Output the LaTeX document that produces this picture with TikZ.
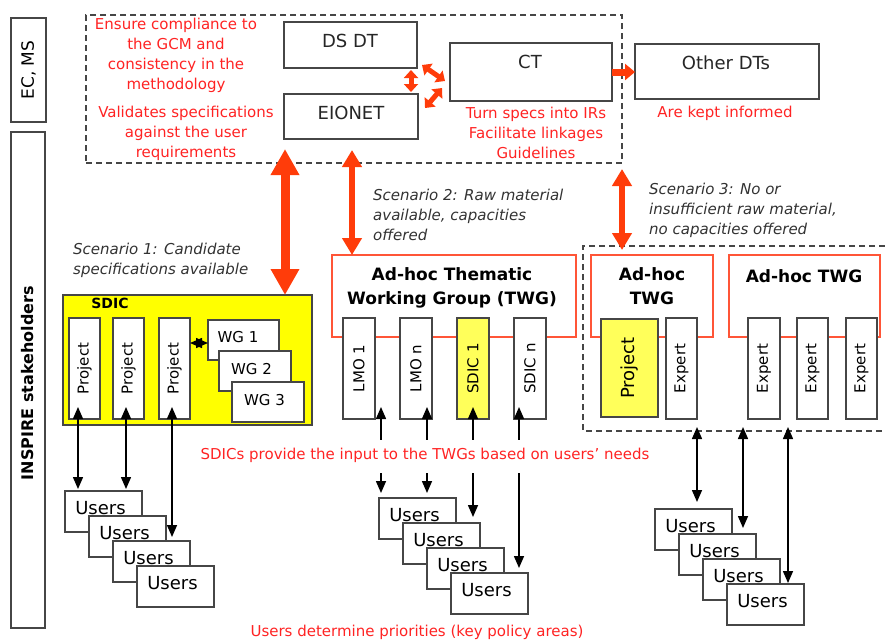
\documentclass[tikz,border=0pt]{standalone}
\usepackage{fontspec}
\setmainfont{DejaVu Sans}
\usetikzlibrary{arrows.meta,calc}
\definecolor{arr}{RGB}{255,60,10}
\definecolor{txr}{RGB}{255,35,35}
\definecolor{twgc}{RGB}{255,85,55}
\definecolor{ylw}{RGB}{255,255,0}
\definecolor{ylt}{RGB}{255,255,90}
\definecolor{bd}{RGB}{70,70,70}
\definecolor{scn}{RGB}{50,50,50}
\newcommand\fs[2]{\fontsize{#1}{#2}\selectfont}
\newcommand\bx[6][]{\node[bxs,#1,minimum width={(#5)-(#3)},minimum height={(#6)-(#4)}] (#2) at ({((#3)+(#5))/2},{((#4)+(#6))/2}) {};}
\newcommand\usr[3]{\bx{#1}{#2}{#3}{#2+77}{#3+41}\node[font=\fs{18}{20},inner sep=0] (#1l) at ([xshift=-3pt,yshift=3pt]#1) {Users};}
\begin{document}
\begin{tikzpicture}[x=1pt,y=-1pt,
  bxs/.style={draw=bd,line width=1.2pt,fill=white,inner sep=0,outer sep=0},
  dsh/.style={draw=bd,line width=1.5pt,dash pattern=on 6pt off 4pt},
  rtx/.style={text=txr,font=\fs{15}{20},align=center,inner sep=0},
  sct/.style={text=scn,font=\fs{15}{20}\itshape,align=left,anchor=west,inner sep=0},
  lbl/.style={font=\fs{18}{22},text=black!85,inner sep=0},
  vl/.style={rotate=90,font=\fs{15}{18},inner sep=0},
  ttl/.style={font=\fs{17}{24}\bfseries,align=center,inner sep=0},
  blka/.style={draw=black,line width=1.5pt},
  >={Triangle[length=12pt,width=10pt]},
  bigA/.style={draw=arr,line width=9pt,{Triangle[length=26pt,width=27pt]}-{Triangle[length=26pt,width=27pt]}},
  midA/.style={draw=arr,line width=6pt,{Triangle[length=17pt,width=19pt]}-{Triangle[length=17pt,width=19pt]}},
  smA/.style={draw=arr,line width=5pt,{Triangle[length=8pt,width=14pt]}-{Triangle[length=8pt,width=14pt]}},
  ctA/.style={draw=arr,line width=7pt,-{Triangle[length=10pt,width=16pt]}}]
\useasboundingbox (0,0) rectangle (885,641);

% left column
\bx{ecms}{11}{18}{46}{122}
\node[vl,font=\fs{17}{20}] (ecmsl) at (ecms) {EC, MS};
\bx{insp}{11}{132}{45}{628}
\node[vl,font=\fs{16}{20}\bfseries] (inspl) at ([yshift=-3pt]insp.center) {INSPIRE stakeholders};

% top dashed box
\bx[dsh,fill=none]{topbox}{86}{15}{622}{163}
\bx{dsdt}{284}{22}{417}{68}
\node[lbl] (dsdtl) at (350,41) {DS DT};
\bx{eionet}{284}{94}{418}{139}
\node[lbl] (eionetl) at (351,113) {EIONET};
\bx{ct}{450}{43}{612}{101}
\node[lbl] (ctl) at (530,62) {CT};
\bx{oth}{635}{44}{819}{99}
\node[lbl] (othl) at (726,63) {Other DTs};

\node[rtx] (t1) at (176,55.5) {Ensure compliance to\\the GCM and\\consistency in the\\methodology};
\node[rtx] (t2) at (186,133.5) {Validates specifications\\against the user\\requirements};
\node[rtx] (t3) at (536,132.5) {Turn specs into IRs\\Facilitate linkages\\Guidelines};
\node[rtx] (t4) at (725,113) {Are kept informed};

% scenarios
\node[sct] (s1) at (73,260) {Scenario 1: Candidate\\specifications available};
\node[sct] (s2) at (373,215) {Scenario 2: Raw material\\available, capacities\\offered};
\node[sct] (s3) at (649,210) {Scenario 3: No or\\insufficient raw material,\\no capacities offered};

% SDIC
\bx[fill=ylw]{sdic}{63}{295}{312}{425}
\node[font=\fs{14}{16}\bfseries,inner sep=0] (sdicl) at (110,303) {SDIC};
\bx{p1}{69}{318}{100}{419}
\bx{p2}{113}{318}{144}{419}
\bx{p3}{159}{318}{190}{419}
\node[vl] (p1l) at (p1) {Project};
\node[vl] (p2l) at (p2) {Project};
\node[vl] (p3l) at (p3) {Project};
\bx{wg1}{208}{320}{279}{360}
\node[font=\fs{15}{18},inner sep=0] (wg1l) at (238,337) {WG 1};
\bx{wg2}{219}{351}{291}{391}
\node[font=\fs{15}{18},inner sep=0] (wg2l) at (251.5,369) {WG 2};
\bx{wg3}{232}{382}{304}{422}
\node[font=\fs{15}{18},inner sep=0] (wg3l) at (264.5,400) {WG 3};
\draw[blka,<->] ([yshift=25.5pt]p3.east) -- ([yshift=25.5pt]p3.east -| wg1.west);

% middle TWG
\bx[draw=twgc]{twg}{332}{255}{576}{337}
\node[ttl] (twgl) at (452,287.5) {Ad-hoc Thematic\\Working Group (TWG)};
\bx{lmo1}{343}{318}{375}{419}
\bx{lmon}{400}{318}{432}{419}
\bx[fill=ylt]{sdic1}{457}{318}{489}{419}
\bx{sdicn}{514}{318}{546}{419}
\node[vl] (lmo1l) at (lmo1) {LMO 1};
\node[vl] (lmonl) at (lmon) {LMO n};
\node[vl] (sdic1l) at (sdic1) {SDIC 1};
\node[vl] (sdicnl) at (sdicn) {SDIC n};

% right dashed area
\draw[dsh] (885,246) -- (583,246) -- (583,431) -- (885,431);
\bx[draw=twgc]{atwg1}{591}{255}{713}{337}
\node[ttl] (atwg1l) at (652,286.5) {Ad-hoc\\TWG};
\bx[draw=twgc]{atwg2}{729}{255}{880}{337}
\node[ttl] (atwg2l) at (804,276) {Ad-hoc TWG};
\bx[fill=ylt]{rproj}{601}{319}{658}{417}
\node[vl,font=\fs{18}{20}] (rprojl) at (rproj) {Project};
\bx{ex1}{666}{318}{697}{419}
\bx{ex2}{748}{318}{780}{419}
\bx{ex3}{797}{318}{828}{419}
\bx{ex4}{846}{318}{877}{419}
\node[vl] (ex1l) at (ex1) {Expert};
\node[vl] (ex2l) at (ex2) {Expert};
\node[vl] (ex3l) at (ex3) {Expert};
\node[vl] (ex4l) at (ex4) {Expert};

% users stacks
\usr{ua}{65}{491}\usr{ub}{89}{516}\usr{uc}{113}{541}\usr{ud}{137}{566}
\usr{va}{379}{498}\usr{vb}{403}{523}\usr{vc}{427}{548}\usr{vd}{451}{573}
\usr{wa}{655}{509}\usr{wb}{679}{534}\usr{wc}{703}{559}\usr{wd}{727}{584}

\node[rtx] (t5) at (425,455) {SDICs provide the input to the TWGs based on users' needs};
\node[rtx] (t6) at (417,632) {Users determine priorities (key policy areas)};

% black arrows left
\draw[blka,<->] ([xshift=-6.5pt,yshift=12pt]p1.south) -- ([xshift=-25.5pt,yshift=2pt]ua.north);
\draw[blka,<->] ([xshift=-2.5pt,yshift=12pt]p2.south) -- ([xshift=22.5pt,yshift=2pt]ua.north);
\draw[blka,<->] ([xshift=-2.5pt,yshift=12pt]p3.south) -- ([xshift=20.5pt,yshift=4pt]uc.north);
% middle
\draw[blka,<-] ([xshift=22pt,yshift=12pt]lmo1.south) -- ++(0,33);
\draw[blka,<-] ([xshift=11pt,yshift=12pt]lmon.south) -- ++(0,33);
\draw[blka,<-] ([yshift=12pt]sdic1.south) -- ++(0,33);
\draw[blka,<-] ([xshift=-11pt,yshift=12pt]sdicn.south) -- ++(0,33);
\draw[blka,<-] ([xshift=-36.5pt,yshift=5pt]va.north) -- ++(0,-20);
\draw[blka,<-] ([xshift=9.5pt,yshift=5pt]va.north) -- ++(0,-20);
\draw[blka,<-] ([xshift=31.5pt,yshift=6pt]vb.north) -- ++(0,-44);
\draw[blka,<-] ([xshift=29.5pt,yshift=5pt]vd.north) -- ++(0,-95);
% right
\draw[blka,<->] ([xshift=15.5pt,yshift=-8pt]ex1.south) -- ([xshift=3.5pt,yshift=7pt]wa.north);
\draw[blka,<->] ([xshift=-21pt,yshift=-8pt]ex2.south) -- ([xshift=25.5pt,yshift=6pt]wb.north);
\draw[blka,<->] ([xshift=-24.5pt,yshift=-8pt]ex3.south) -- ([xshift=22.5pt,yshift=1pt]wd.north);

% red arrows
\draw[smA] ([xshift=-6pt,yshift=-2pt]dsdt.south east) -- ([xshift=-7pt,yshift=2pt]eionet.north east);
\draw[smA] ([xshift=5pt,yshift=3pt]dsdt.south east) -- ([xshift=-5pt,yshift=-9pt]ct.west);
\draw[smA] ([xshift=7pt,yshift=-14pt]eionet.north east) -- ([xshift=-8pt,yshift=-16pt]ct.west);
\draw[ctA] (ct.east) -- (ct.east -| oth.west);
\draw[bigA] ([xshift=-27pt]sdic.north east) -- ++(0,-146);
\draw[midA] ([xshift=20pt]twg.north west) -- ++(0,-105);
\draw[midA] ([xshift=31pt,yshift=5pt]atwg1.north west) -- ++(0,-81);
\end{tikzpicture}
\end{document}
